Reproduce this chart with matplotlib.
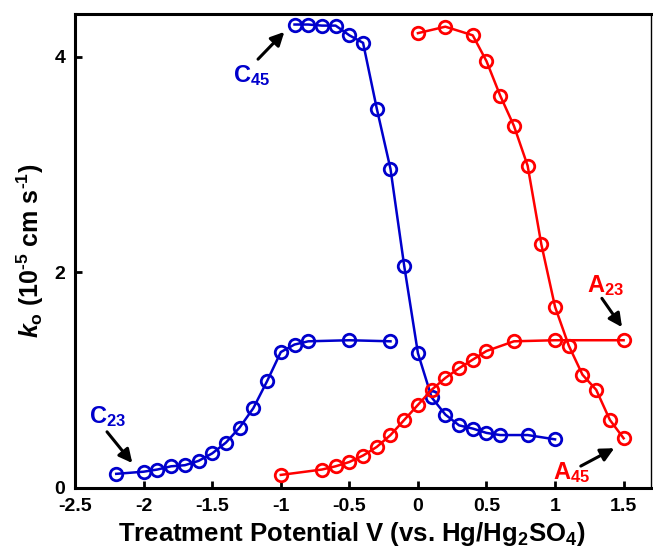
import matplotlib
matplotlib.use('Agg')
import matplotlib.pyplot as plt

plt.rcParams['font.family'] = 'Liberation Sans'
plt.rcParams['font.weight'] = 'bold'
plt.rcParams['mathtext.fontset'] = 'custom'
plt.rcParams['mathtext.rm'] = 'Liberation Sans:bold'
plt.rcParams['mathtext.bf'] = 'Liberation Sans:bold'
plt.rcParams['mathtext.it'] = 'Liberation Sans:italic:bold'

# C45 (cathodic, 45 deg)
c45_v = [-0.9, -0.8, -0.7, -0.6, -0.5, -0.4, -0.3, -0.2, -0.1, 0.0, 0.1, 0.2, 0.3, 0.4, 0.5, 0.6, 0.8, 1.0]
c45_k = [4.30, 4.30, 4.29, 4.29, 4.20, 4.13, 3.52, 2.96, 2.06, 1.25, 0.84, 0.68, 0.58, 0.55, 0.51, 0.49, 0.49, 0.45]

# C23
c23_v = [-2.2, -2.0, -1.9, -1.8, -1.7, -1.6, -1.5, -1.4, -1.3, -1.2, -1.1, -1.0, -0.9, -0.8, -0.5, -0.2]
c23_k = [0.13, 0.15, 0.17, 0.20, 0.21, 0.25, 0.32, 0.42, 0.56, 0.74, 0.99, 1.26, 1.33, 1.36, 1.37, 1.36]

# A23
a23_v = [-1.0, -0.7, -0.6, -0.5, -0.4, -0.3, -0.2, -0.1, 0.0, 0.1, 0.2, 0.3, 0.4, 0.5, 0.7, 1.0, 1.5]
a23_k = [0.12, 0.17, 0.20, 0.24, 0.30, 0.38, 0.49, 0.63, 0.77, 0.91, 1.02, 1.11, 1.19, 1.27, 1.36, 1.37, 1.37]

# A45
a45_v = [0.0, 0.2, 0.4, 0.5, 0.6, 0.7, 0.8, 0.9, 1.0, 1.1, 1.2, 1.3, 1.4, 1.5]
a45_k = [4.22, 4.28, 4.20, 3.96, 3.64, 3.36, 2.99, 2.26, 1.68, 1.32, 1.05, 0.91, 0.63, 0.46]

blue = '#0000CC'
red = '#FF0000'

fig = plt.figure(figsize=(6.53, 5.5), dpi=100)
ax = fig.add_axes([0.115, 0.113, 0.882, 0.862])

style = dict(marker='o', markersize=9, markerfacecolor='none', markeredgewidth=2, linewidth=1.8)
ax.plot(c45_v, c45_k, color=blue, **style)
ax.plot(c23_v, c23_k, color=blue, **style)
ax.plot(a23_v, a23_k, color=red, **style)
ax.plot(a45_v, a45_k, color=red, **style)

# arrows pointing at the series ends
arrow = dict(arrowstyle='-|>', color='black', lw=2.2, mutation_scale=20)
ax.annotate('', xy=(-0.96, 4.25), xytext=(-1.18, 3.96), arrowprops=arrow)
ax.annotate('', xy=(-2.07, 0.21), xytext=(-2.28, 0.54), arrowprops=arrow)
ax.annotate('', xy=(1.50, 1.47), xytext=(1.33, 1.78), arrowprops=arrow)
ax.annotate('', xy=(1.45, 0.38), xytext=(1.17, 0.19), arrowprops=arrow)

lab = dict(fontsize=17, fontweight='bold', ha='center', va='center')
ax.text(-1.21, 3.83, r'C$_{45}$', color=blue, **lab)
ax.text(-2.26, 0.66, r'C$_{23}$', color=blue, **lab)
ax.text(1.37, 1.88, r'A$_{23}$', color=red, **lab)
ax.text(1.12, 0.14, r'A$_{45}$', color=red, **lab)

ax.set_xlim(-2.5, 1.7)
ax.set_ylim(0, 4.4)
ax.set_xticks([-2.5, -2, -1.5, -1, -0.5, 0, 0.5, 1, 1.5])
ax.set_xticklabels(['-2.5', '-2', '-1.5', '-1', '-0.5', '0', '0.5', '1', '1.5'])
ax.set_yticks([0, 2, 4])
ax.tick_params(direction='in', length=5, width=2, labelsize=14, pad=7)
for s in ['left', 'bottom', 'top']:
    ax.spines[s].set_linewidth(2.2)
ax.spines['right'].set_linewidth(1)

ax.set_xlabel(r'Treatment Potential V (vs. Hg/Hg$_2$SO$_4$)', fontsize=18.5, fontweight='bold')
ax.xaxis.set_label_coords(0.481, -0.068)
ax.set_ylabel(r'$\mathit{k}_\mathrm{o}$ (10$^{\text{-5}}$ cm s$^{\text{-1}}$)', fontsize=18, fontweight='bold', labelpad=6)

fig.savefig('out.png', dpi=100)
